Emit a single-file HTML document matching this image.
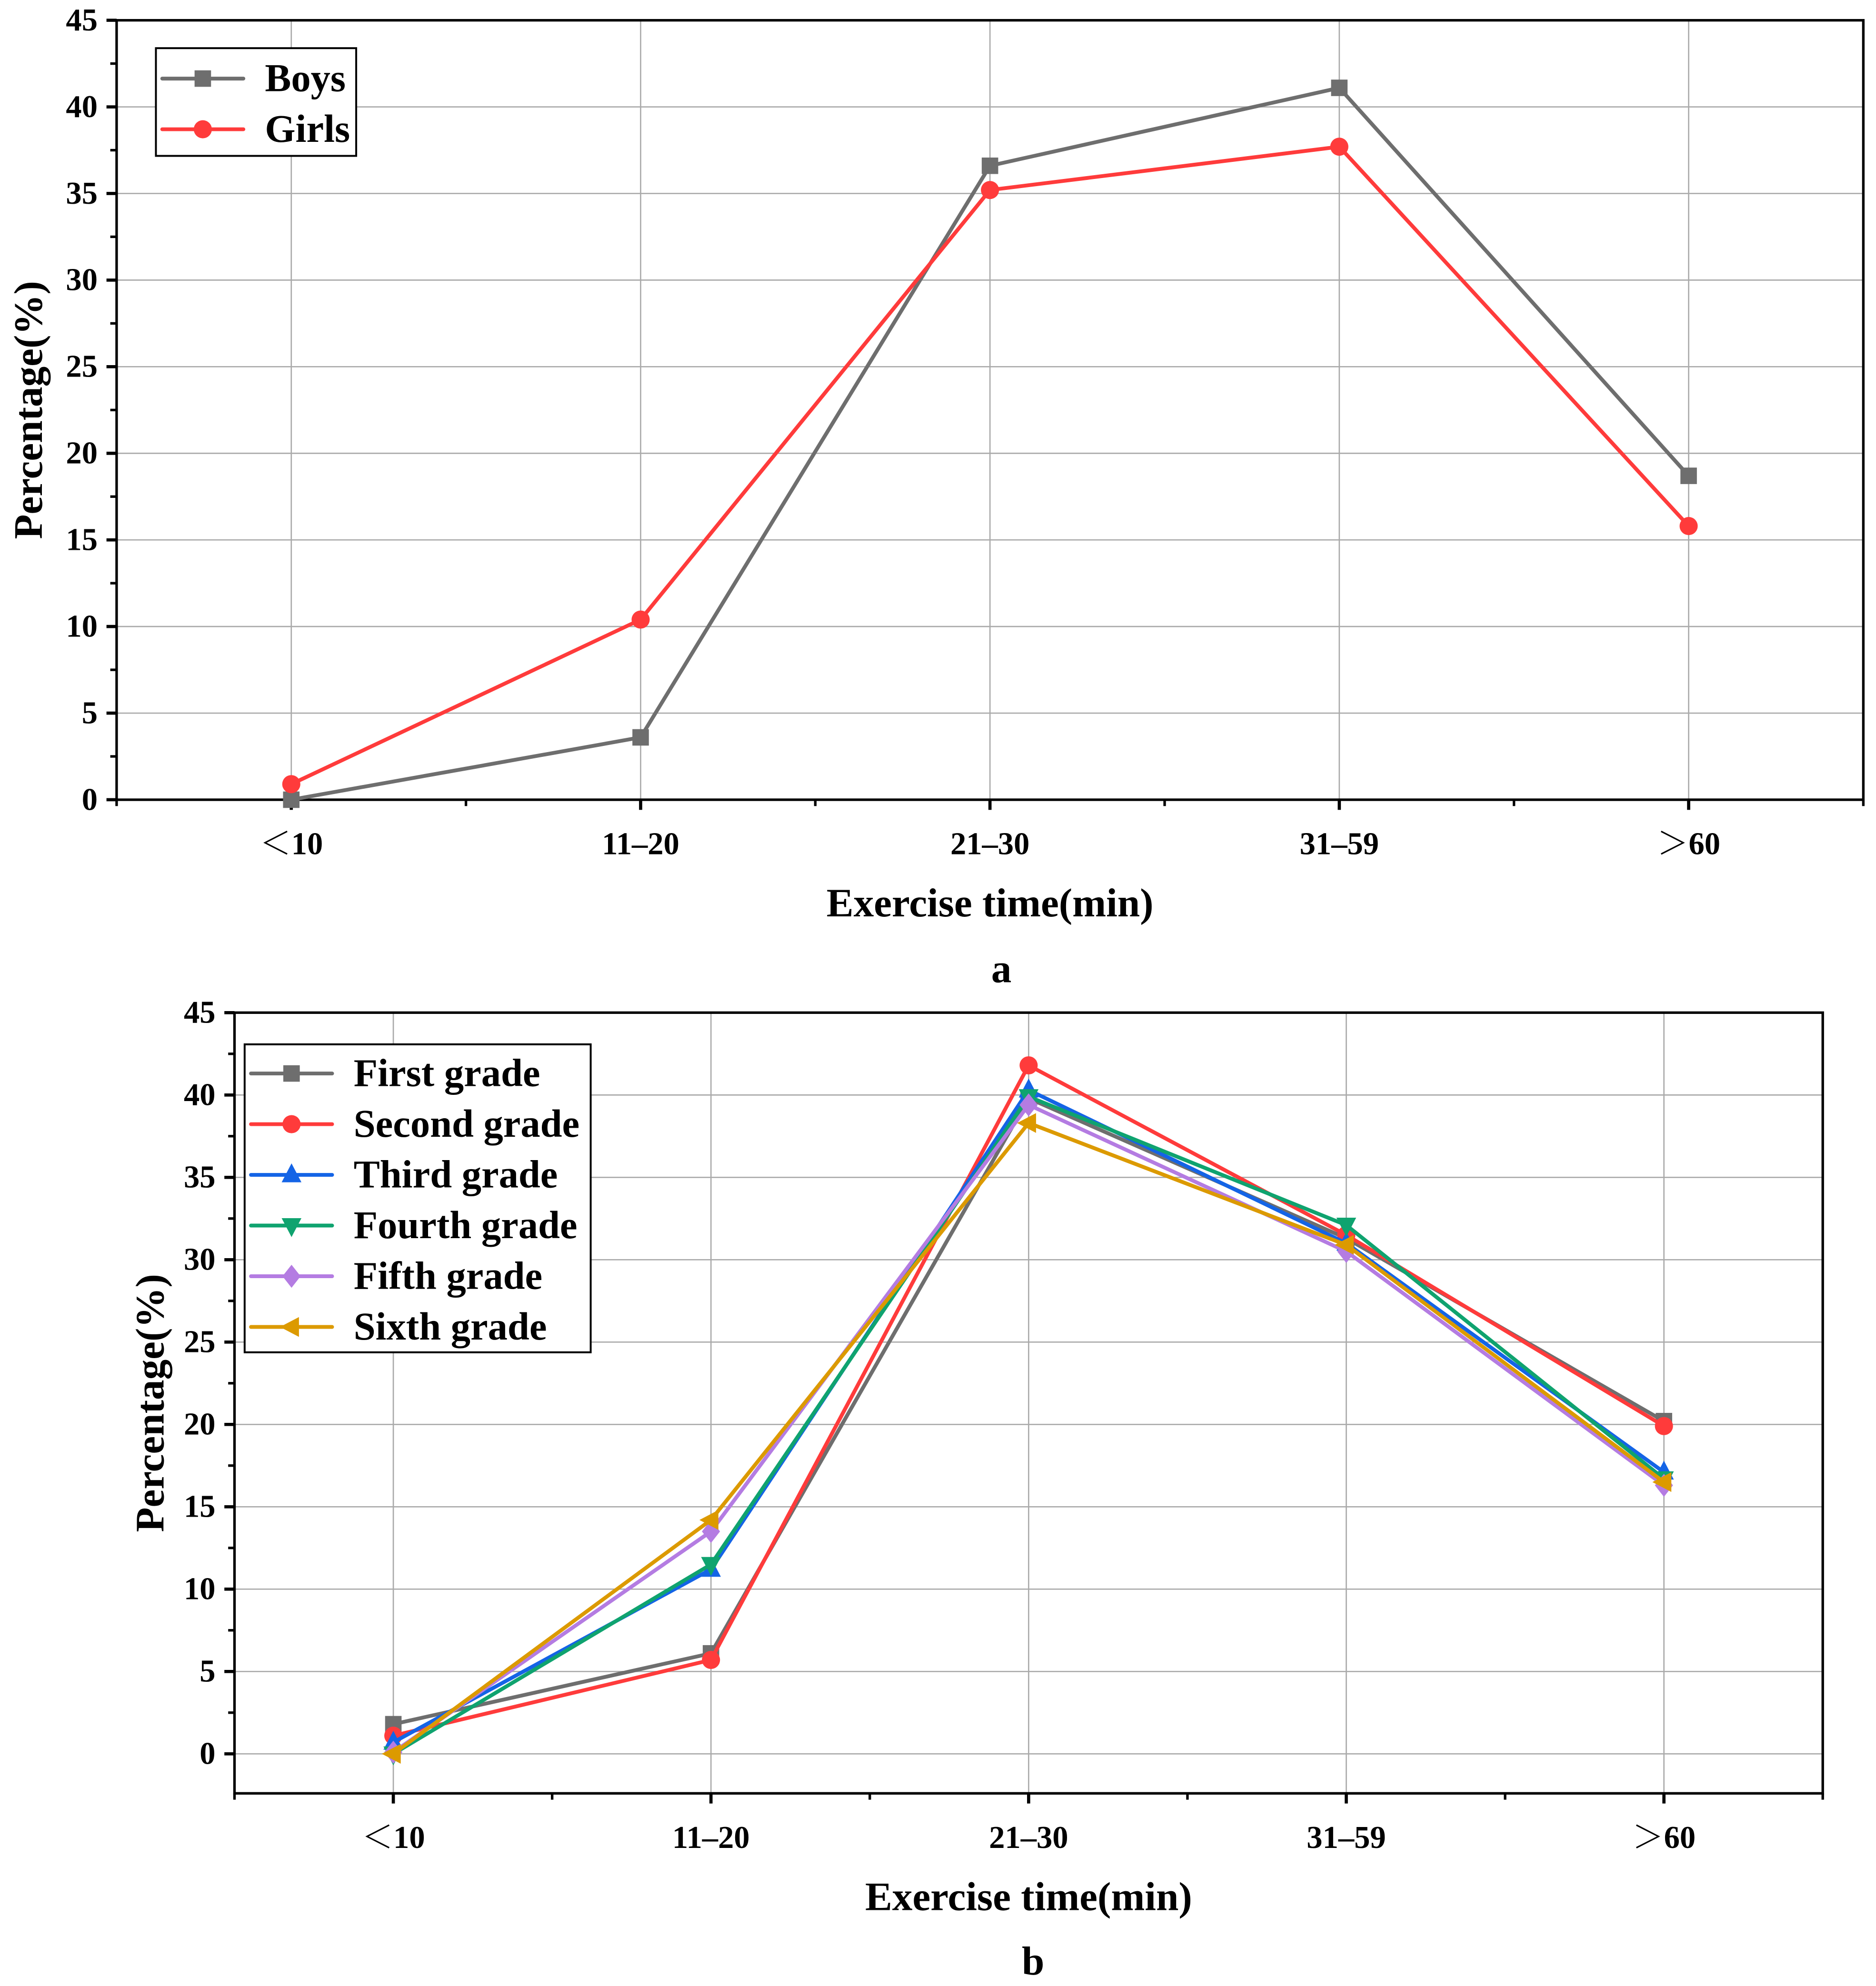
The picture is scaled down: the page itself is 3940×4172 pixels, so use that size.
<!DOCTYPE html>
<html><head><meta charset="utf-8"><style>
html,body{margin:0;padding:0;background:#fff;}
svg{display:block;}
text{font-family:"Liberation Serif","Noto Serif CJK SC",serif;font-weight:bold;fill:#000;}
</style></head><body>
<svg id="svg" width="3940" height="4172" viewBox="0 0 1480 1567" preserveAspectRatio="none" xmlns="http://www.w3.org/2000/svg"></svg>
<script>
const categories = ["＜10","11–20","21–30","31–59","＞60"];
const yTicks = [0,5,10,15,20,25,30,35,40,45];
const boys = [0, 3.6, 36.6, 41.1, 18.7];
const girls = [0.9, 10.4, 35.2, 37.7, 15.8];
const firstGrade = [1.8, 6.1, 39.8, 31.3, 20.2];
const secondGrade = [1.1, 5.7, 41.8, 31.5, 19.9];
const thirdGrade = [0.7, 11.2, 40.3, 31.0, 17.1];
const fourthGrade = [0, 11.5, 39.9, 32.1, 16.7];
const fifthGrade = [0.1, 13.5, 39.4, 30.5, 16.3];
const sixthGrade = [0, 14.2, 38.3, 30.9, 16.5];

const NS="http://www.w3.org/2000/svg";
const svg=document.getElementById('svg');
function mk(tag,attrs,parent){const e=document.createElementNS(NS,tag);for(const k in attrs)e.setAttribute(k,attrs[k]);(parent||svg).appendChild(e);return e;}

function marker(g,type,x,y,c,s){
  let e;
  if(type==='square'){e=mk('rect',{x:x-s,y:y-s,width:2*s,height:2*s,fill:c},g);}
  else if(type==='circle'){e=mk('circle',{cx:x,cy:y,r:s*1.1,fill:c},g);}
  else if(type==='up'){e=mk('polygon',{points:`${x},${y-s*1.4} ${x-s*1.2},${y+s*0.9} ${x+s*1.2},${y+s*0.9}`,fill:c},g);}
  else if(type==='down'){e=mk('polygon',{points:`${x},${y+s*1.4} ${x-s*1.2},${y-s*0.9} ${x+s*1.2},${y-s*0.9}`,fill:c},g);}
  else if(type==='diamond'){e=mk('polygon',{points:`${x},${y-s*1.4} ${x+s*1.1},${y} ${x},${y+s*1.4} ${x-s*1.1},${y}`,fill:c},g);}
  else {e=mk('polygon',{points:`${x-s*1.4},${y} ${x+s*0.9},${y-s*1.2} ${x+s*0.9},${y+s*1.2}`,fill:c},g);}
  
  
}

function chart(cfg){
  const g=mk('g',{});
  
  
  const {L,R,T,B,yMin,yMax}=cfg;
  const xs=v=>L+(v+0.5)*(R-L)/categories.length;
  const ys=v=>B-(v-yMin)*(B-T)/(yMax-yMin);
  categories.forEach((c,i)=>{const l=mk('line',{x1:xs(i),x2:xs(i),y1:T,y2:B,stroke:'#aaa','stroke-width':1},g);});
  yTicks.forEach(v=>{const l=mk('line',{x1:L,x2:R,y1:ys(v),y2:ys(v),stroke:'#aaa','stroke-width':1},g);});
  const fr=mk('rect',{x:L,y:T,width:R-L,height:B-T,fill:'none',stroke:'#000','stroke-width':2},g);
  
  yTicks.forEach(v=>{
    mk('line',{x1:L-8,x2:L,y1:ys(v),y2:ys(v),stroke:'#000','stroke-width':2.5},g);
    if(v+2.5<=yMax) mk('line',{x1:L-5,x2:L,y1:ys(v+2.5),y2:ys(v+2.5),stroke:'#000','stroke-width':2},g);
    const t=mk('text',{x:L-15,y:ys(v)+8,'text-anchor':'end','font-size':25},g);t.textContent=v;
    
  });
  categories.forEach((c,i)=>{
    mk('line',{x1:xs(i),x2:xs(i),y1:B,y2:B+8,stroke:'#000','stroke-width':2.5},g);
    mk('line',{x1:xs(i-0.5),x2:xs(i-0.5),y1:B,y2:B+5,stroke:'#000','stroke-width':2},g);
    const t=mk('text',{x:xs(i),y:B+43,'text-anchor':'middle','font-size':25},g);t.textContent=c;
    
  });
  mk('line',{x1:xs(4.5),x2:xs(4.5),y1:B,y2:B+5,stroke:'#000','stroke-width':2},g);
  let t=mk('text',{x:(L+R)/2,y:B+92,'text-anchor':'middle','font-size':32},g);t.textContent='Exercise time(min)';
  
  t=mk('text',{x:0,y:0,'text-anchor':'middle','font-size':32,transform:`translate(${cfg.yTitleX},${(T+B)/2}) rotate(-90)`},g);t.textContent='Percentage(%)';
  
  t=mk('text',{x:cfg.panelX,y:cfg.panelY,'text-anchor':'middle','font-size':32},g);t.textContent=cfg.panel;
  
  cfg.series.forEach(s=>{
    const sg=mk('g',{},g);
    
    
    const p=mk('polyline',{points:s.data.map((v,i)=>xs(i)+','+ys(v)).join(' '),fill:'none',stroke:s.color,'stroke-width':3,'stroke-linejoin':'round'},sg);
    
    
    s.data.forEach((v,i)=>marker(sg,s.m,xs(i),ys(v),s.color,6.5));
  });
  const lg=mk('g',{},g);
  
  
  const lc=cfg.legend;
  mk('rect',{x:lc.x,y:lc.y,width:lc.w,height:lc.h,fill:'#fff',stroke:'#000','stroke-width':1.5},lg);
  cfg.series.forEach((s,i)=>{
    const y=lc.y+lc.first+i*40;
    const eg=mk('g',{},lg);
    
    
    mk('line',{x1:lc.x+5,x2:lc.x+69,y1:y,y2:y,stroke:s.color,'stroke-width':3,'stroke-linecap':'round'},eg);
    marker(eg,s.m,lc.x+37,y,s.color,6.5);
    const tt=mk('text',{x:lc.x+86,y:y+10,'font-size':31},eg);tt.textContent=s.label;
  });
}

chart({name:'chart-a',L:92,R:1470,T:16,B:631,yMin:0,yMax:45,yTitleX:33,panel:'a',panelX:790,panelY:775,
  legend:{x:123,y:38,w:158,h:85,first:24},
  series:[{key:'boys',label:'Boys',data:boys,color:'#6e6e6e',m:'square'},
          {key:'girls',label:'Girls',data:girls,color:'#ff3b3b',m:'circle'}]});
chart({name:'chart-b',L:185,R:1438,T:799,B:1415,yMin:-2.4,yMax:45,yTitleX:129,panel:'b',panelX:815,panelY:1558,
  legend:{x:193,y:824,w:273,h:243,first:23},
  series:[{key:'first',label:'First grade',data:firstGrade,color:'#6e6e6e',m:'square'},
          {key:'second',label:'Second grade',data:secondGrade,color:'#ff3b3b',m:'circle'},
          {key:'third',label:'Third grade',data:thirdGrade,color:'#1464e6',m:'up'},
          {key:'fourth',label:'Fourth grade',data:fourthGrade,color:'#0fa36f',m:'down'},
          {key:'fifth',label:'Fifth grade',data:fifthGrade,color:'#b47ce2',m:'diamond'},
          {key:'sixth',label:'Sixth grade',data:sixthGrade,color:'#dc9a00',m:'left'}]});
</script>
</body></html>
